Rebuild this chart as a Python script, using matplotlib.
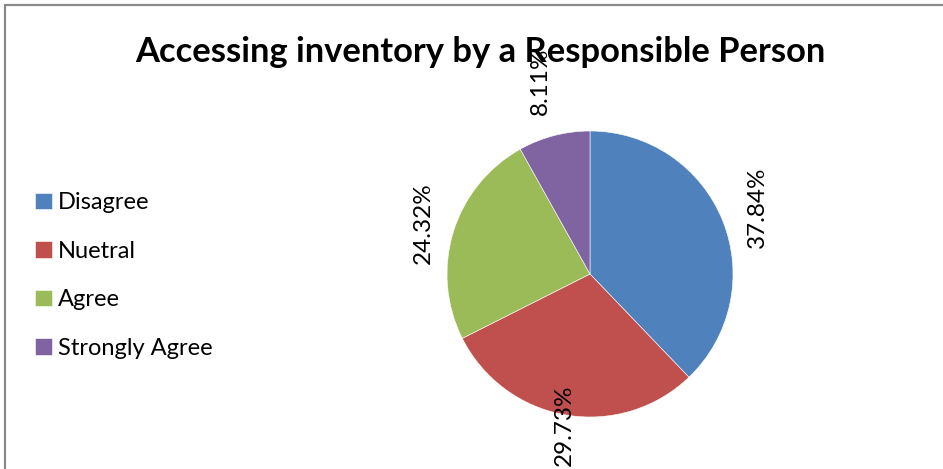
import numpy as np
import matplotlib
matplotlib.use("Agg")
import matplotlib.pyplot as plt
from matplotlib.patches import Rectangle

plt.rcParams['font.family'] = ['Lato', 'DejaVu Sans']

# data
categories = ['Disagree', 'Nuetral', 'Agree', 'Strongly Agree']
percentages = [37.84, 29.73, 24.32, 8.11]
slice_colors = ['#4F81BD', '#C0504D', '#9BBB59', '#8064A2']
title = 'Accessing inventory by a Responsible Person'

# how far out each label sits (in pie radii), like the Excel layout
label_dist = [1.26, 1.07, 1.22, 1.39]

W, H = 943, 469
fig = plt.figure(figsize=(W / 100, H / 100), dpi=100)
ax = fig.add_axes([0, 0, 1, 1])

cx, cy, r = 590, H - 274, 143
wedges, _ = ax.pie(percentages, colors=slice_colors, startangle=90,
                   counterclock=False, center=(cx, cy), radius=r,
                   wedgeprops=dict(edgecolor='white', linewidth=0.4))
ax.set_xlim(0, W)
ax.set_ylim(0, H)
ax.set_aspect('equal')
ax.axis('off')

# rotated percentage labels outside each slice
start = 90.0
for val, d in zip(percentages, label_dist):
    mid = np.deg2rad(start - val * 3.6 / 2)
    start -= val * 3.6
    ax.text(cx + d * r * np.cos(mid), cy + d * r * np.sin(mid),
            '%.2f%%' % val, rotation=90, ha='center', va='center',
            fontsize=17.5, color='black')

fig.text(480 / W, 1 - 52 / H, title, ha='center', va='center',
         fontsize=24.8, fontweight='bold')

leg = fig.legend(wedges, categories, loc='upper left',
                 bbox_to_anchor=(26 / W, 1 - 183 / H), frameon=False,
                 fontsize=17, handlelength=0.7, handleheight=0.7,
                 handletextpad=0.25, labelspacing=1.16, borderaxespad=0)

# grey chart border (right and bottom are cut off in the reference)
fig.patches.append(Rectangle((4.5 / W, -0.1), 1.2, (H - 5.5) / H + 0.1,
                             transform=fig.transFigure, fill=False,
                             edgecolor='#8a8a8a', linewidth=1.6))

fig.savefig('out.png', dpi=100)
